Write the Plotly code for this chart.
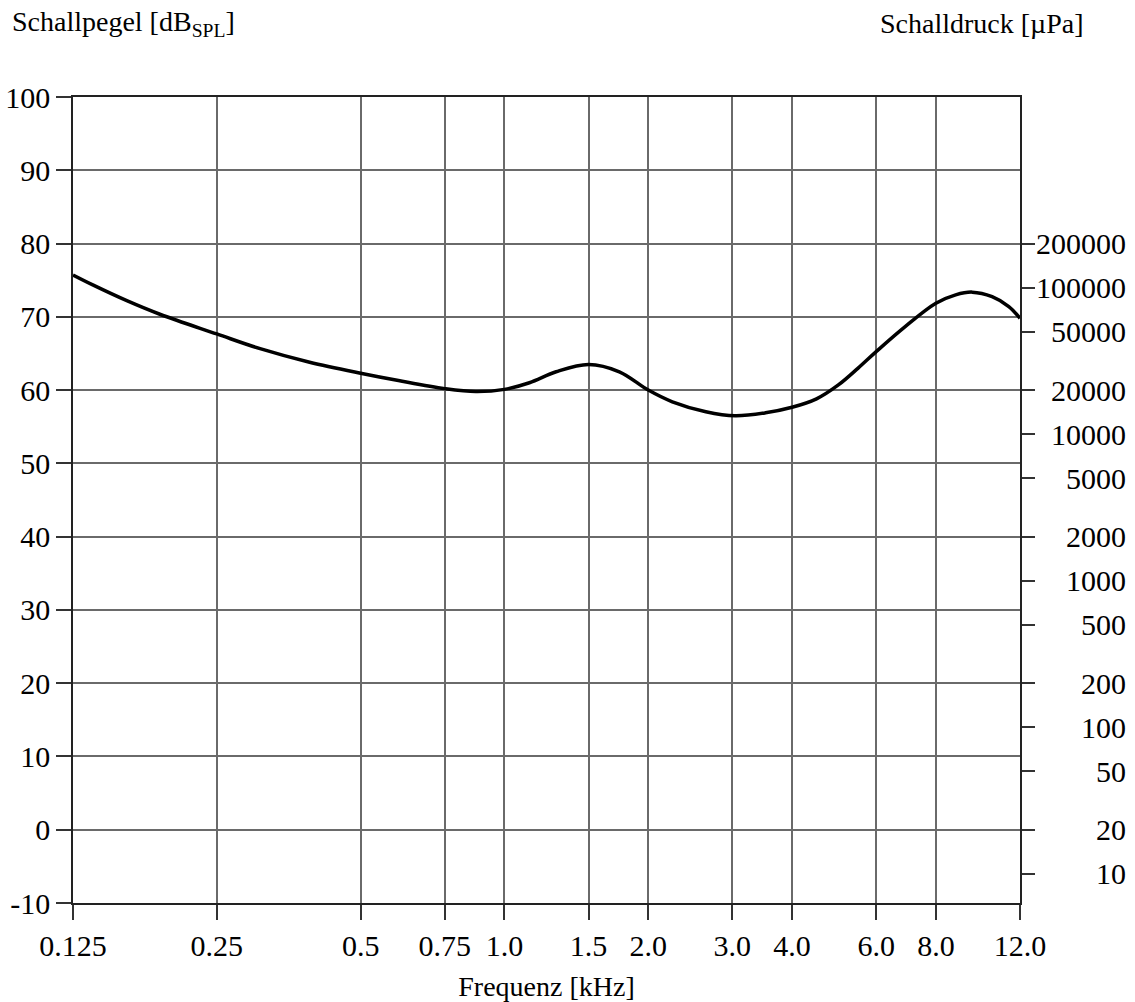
import math
import plotly.graph_objects as go

# ---- data ----
freq_khz = [0.125, 0.1375, 0.162, 0.19, 0.25, 0.308, 0.391, 0.5, 0.6, 0.75, 0.871, 1.0, 1.128,
            1.283, 1.5, 1.74, 2.0, 2.246, 2.64, 3.04, 3.52, 4.0, 4.5, 5.0, 5.5, 6.0, 6.9, 8.0, 8.8,
            9.53, 10.49, 11.37, 12.0]
level_db = [75.7, 74.35, 72.2, 70.35, 67.66, 65.65, 63.8, 62.3, 61.3, 60.2, 59.8, 60.1, 61.0,
            62.5, 63.5, 62.5, 60.0, 58.4, 57.05, 56.5, 56.9, 57.65, 58.8, 60.7, 63.0, 65.25, 68.66, 71.85, 73.0,
            73.37, 72.75, 71.4, 69.8]

x_tickvals = [0.125, 0.25, 0.5, 0.75, 1.0, 1.5, 2.0, 3.0, 4.0, 6.0, 8.0, 12.0]
x_ticktext = ["0.125", "0.25", "0.5", "0.75", "1.0", "1.5", "2.0", "3.0", "4.0", "6.0", "8.0", "12.0"]
y_tickvals = [-10, 0, 10, 20, 30, 40, 50, 60, 70, 80, 90, 100]
y_ticktext = ["-10", "0", "10", "20", "30", "40", "50", "60", "70", "80", "90", "100"]
pressure_ticks = [10, 20, 50, 100, 200, 500, 1000, 2000, 5000, 10000, 20000, 50000, 100000, 200000]

DB_MIN, DB_MAX = -10, 100
P_REF = 20.0  # µPa

FONT = "Liberation Serif"
FS = 30
FS_TITLE = 28

fig = go.Figure()
fig.add_trace(go.Scatter(
    x=freq_khz, y=level_db, mode="lines",
    line=dict(color="black", width=3.5, shape="spline", smoothing=1.0),
    showlegend=False, hoverinfo="skip",
))
# invisible trace to activate secondary axis
fig.add_trace(go.Scatter(x=[freq_khz[0]], y=[P_REF], yaxis="y2", mode="markers",
                         marker=dict(opacity=0), showlegend=False, hoverinfo="skip"))

grid_col = "#6a6a6a"
fig.update_layout(
    width=1135, height=1002,
    margin=dict(l=73, r=115, t=97, b=99),
    paper_bgcolor="white", plot_bgcolor="white",
    font=dict(family=FONT, size=FS, color="black"),
    xaxis=dict(
        type="log", automargin=False,
        range=[math.log10(0.125), math.log10(12.0)],
        tickvals=x_tickvals, ticktext=x_ticktext,
        ticks="outside", ticklen=15, tickwidth=1.5, tickcolor="#333",
        showgrid=True, gridcolor=grid_col, gridwidth=1.5,
        showline=True, linecolor="#222", linewidth=1.5, mirror=True,
        zeroline=False,
        title=dict(text="Frequenz [kHz]", standoff=16, font=dict(size=FS_TITLE)),
    ),
    yaxis=dict(
        automargin=False,
        range=[DB_MIN, DB_MAX],
        tickvals=y_tickvals, ticktext=y_ticktext,
        ticks="outside", ticklen=15, tickwidth=1.5, tickcolor="#333",
        showgrid=True, gridcolor=grid_col, gridwidth=1.5,
        showline=True, linecolor="#222", linewidth=1.5,
        zeroline=False,
    ),
    yaxis2=dict(
        type="log", overlaying="y", side="right", automargin=False,
        range=[math.log10(P_REF * 10 ** (DB_MIN / 20)), math.log10(P_REF * 10 ** (DB_MAX / 20))],
        tickvals=pressure_ticks, showticklabels=False,
        ticks="outside", ticklen=13, tickwidth=1.5, tickcolor="#333",
        showgrid=False, showline=True, linecolor="#222", linewidth=1.5,
        zeroline=False,
    ),
)

# right axis labels, right-aligned
for p in pressure_ticks:
    fig.add_annotation(x=(1128 - 73) / 947, xref="paper", xanchor="right",
                       y=math.log10(p), yref="y2", yanchor="middle",
                       text=str(p), showarrow=False, font=dict(size=FS))

fig.add_annotation(x=(10 - 73) / 947, xref="paper", xanchor="left",
                   y=(903 - 24) / 806, yref="paper", yanchor="middle",
                   text="Schallpegel [dB<sub>SPL</sub>]", showarrow=False, font=dict(size=FS_TITLE))
fig.add_annotation(x=(982 - 73) / 947, xref="paper", xanchor="center",
                   y=(903 - 24) / 806, yref="paper", yanchor="middle",
                   text="Schalldruck [µPa]", showarrow=False, font=dict(size=FS_TITLE))

fig.write_html("out.html")
